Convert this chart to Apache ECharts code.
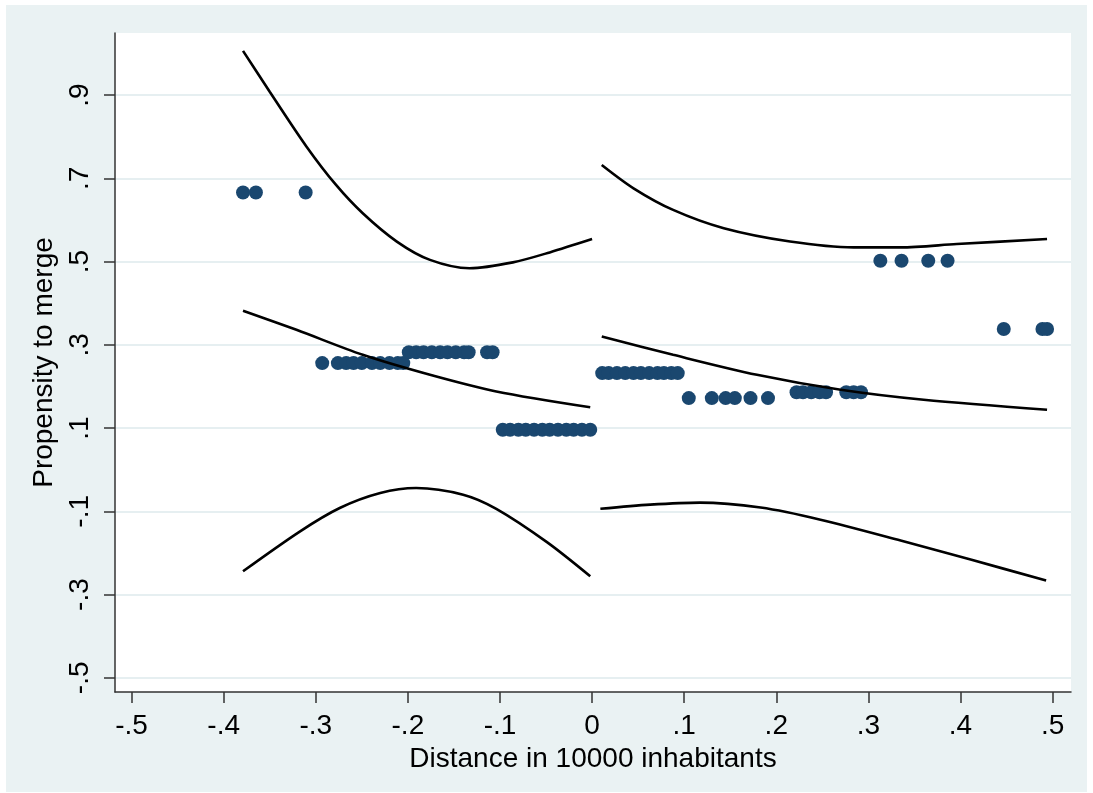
<!DOCTYPE html>
<html>
<head>
<meta charset="utf-8">
<script src="https://cdn.jsdelivr.net/npm/echarts@6/dist/echarts.min.js"></script>
<style>
  body { margin: 0; background: #fff; }
  /* light graph region behind the plot */
  #region { position: absolute; left: 6px; top: 5px; width: 1081px; height: 787px; background: #eaf2f3; }
  #chart { position: absolute; left: 0; top: 0; width: 1093px; height: 793px; }
</style>
</head>
<body>
<div id="region"></div>
<div id="chart"></div>
<script>
// tick values
var xTicks = [-0.5, -0.4, -0.3, -0.2, -0.1, 0, 0.1, 0.2, 0.3, 0.4, 0.5]
var yTicks = [-0.5, -0.3, -0.1, 0.1, 0.3, 0.5, 0.7, 0.9]

// scatter points, [distance, propensity]
var dots = [
  [-0.379, 0.666], [-0.365, 0.666], [-0.311, 0.666],
  [-0.293, 0.256], [-0.276, 0.256], [-0.267, 0.256], [-0.259, 0.256], [-0.250, 0.256],
  [-0.239, 0.256], [-0.230, 0.256], [-0.220, 0.256], [-0.211, 0.256], [-0.205, 0.256],
  [-0.199, 0.282], [-0.191, 0.282], [-0.183, 0.282], [-0.174, 0.282], [-0.165, 0.282],
  [-0.157, 0.282], [-0.148, 0.282], [-0.139, 0.282], [-0.134, 0.282], [-0.114, 0.282], [-0.108, 0.282],
  [-0.097, 0.096], [-0.089, 0.096], [-0.080, 0.096], [-0.072, 0.096], [-0.063, 0.096], [-0.054, 0.096],
  [-0.046, 0.096], [-0.037, 0.096], [-0.028, 0.096], [-0.020, 0.096], [-0.011, 0.096], [-0.002, 0.096],
  [0.011, 0.232], [0.018, 0.232], [0.027, 0.232], [0.036, 0.232], [0.045, 0.232], [0.053, 0.232],
  [0.062, 0.232], [0.071, 0.232], [0.078, 0.232], [0.086, 0.232], [0.093, 0.232],
  [0.105, 0.172], [0.130, 0.172], [0.145, 0.172], [0.155, 0.172], [0.172, 0.172], [0.191, 0.172],
  [0.222, 0.186], [0.229, 0.186], [0.238, 0.186], [0.247, 0.186], [0.254, 0.186],
  [0.276, 0.186], [0.284, 0.186], [0.292, 0.186],
  [0.313, 0.502], [0.336, 0.502], [0.365, 0.502], [0.386, 0.502],
  [0.447, 0.338], [0.489, 0.338], [0.494, 0.338]
]

// fitted line and confidence bands, left of the cutoff
var fitLeft = [[-0.379, 0.382], [-0.321, 0.336], [-0.249, 0.276], [-0.176, 0.228], [-0.104, 0.188], [-0.002, 0.150]]
var upLeft = [[-0.379, 1.006], [-0.350, 0.908], [-0.310, 0.776], [-0.278, 0.684], [-0.249, 0.616], [-0.212, 0.548],
  [-0.176, 0.504], [-0.133, 0.484], [-0.086, 0.498], [-0.046, 0.522], [0.0, 0.554]]
var lowLeft = [[-0.379, -0.244], [-0.317, -0.148], [-0.274, -0.092], [-0.230, -0.056], [-0.191, -0.044],
  [-0.140, -0.060], [-0.104, -0.094], [-0.049, -0.174], [-0.002, -0.256]]

// right of the cutoff
var fitRight = [[0.0105, 0.320], [0.088, 0.276], [0.179, 0.228], [0.270, 0.192], [0.360, 0.168], [0.494, 0.144]]
var upRight = [[0.0105, 0.732], [0.045, 0.676], [0.088, 0.624], [0.143, 0.580], [0.215, 0.548], [0.284, 0.534],
  [0.335, 0.534], [0.396, 0.542], [0.494, 0.554]]
var lowRight = [[0.009, -0.094], [0.063, -0.084], [0.117, -0.079], [0.183, -0.091], [0.248, -0.120],
  [0.335, -0.170], [0.411, -0.216], [0.493, -0.266]]

function fmt(v) {
  // stata style: .5 / -.3 / 0
  var s = (Math.round(v * 10) / 10).toString()
  return s.replace(/^(-?)0\./, '$1.')
}

function curve(data) {
  return {
    type: 'line',
    data: data,
    smooth: 0.3,
    symbol: 'none',
    silent: true,
    animation: false,
    lineStyle: { color: '#000', width: 2.6 }
  }
}

var myChart = echarts.init(document.getElementById('chart'))
var option = {
  backgroundColor: 'transparent',
  textStyle: { fontFamily: 'Liberation Sans' },
  grid: {
    left: 115,
    right: 22,
    top: 33,
    bottom: 101,
    show: true,
    backgroundColor: '#fff',
    borderWidth: 0
  },
  xAxis: {
    type: 'value',
    min: -0.518,
    max: 0.52,
    name: 'Distance in 10000 inhabitants',
    nameLocation: 'middle',
    nameGap: 42,
    nameTextStyle: { color: '#000', fontSize: 28 },
    axisLine: { show: true, onZero: false, lineStyle: { color: '#333', width: 1.5 } },
    axisTick: { show: true, length: 11, customValues: xTicks, lineStyle: { color: '#333', width: 1.5 } },
    axisLabel: { customValues: xTicks, color: '#000', fontSize: 28, margin: 20, formatter: fmt },
    splitLine: { show: false }
  },
  yAxis: {
    type: 'value',
    min: -0.534,
    max: 1.049,
    name: 'Propensity to merge',
    nameLocation: 'middle',
    nameGap: 51,
    nameTextStyle: { color: '#000', fontSize: 28 },
    axisLine: { show: true, onZero: false, lineStyle: { color: '#333', width: 1.5 } },
    axisTick: { show: true, length: 11, customValues: yTicks, lineStyle: { color: '#333', width: 1.5 } },
    axisLabel: { customValues: yTicks, color: '#000', fontSize: 28, rotate: 90, margin: 21, formatter: fmt },
    splitLine: { show: true, lineStyle: { color: '#e6eff1', width: 2 } }
  },
  series: [
    {
      type: 'scatter',
      data: dots,
      symbolSize: 14,
      silent: true,
      animation: false,
      itemStyle: { color: '#1a476f', opacity: 1 }
    },
    curve(upLeft),
    curve(fitLeft),
    curve(lowLeft),
    curve(upRight),
    curve(fitRight),
    curve(lowRight)
  ]
}
option && myChart.setOption(option)
</script>
</body>
</html>
